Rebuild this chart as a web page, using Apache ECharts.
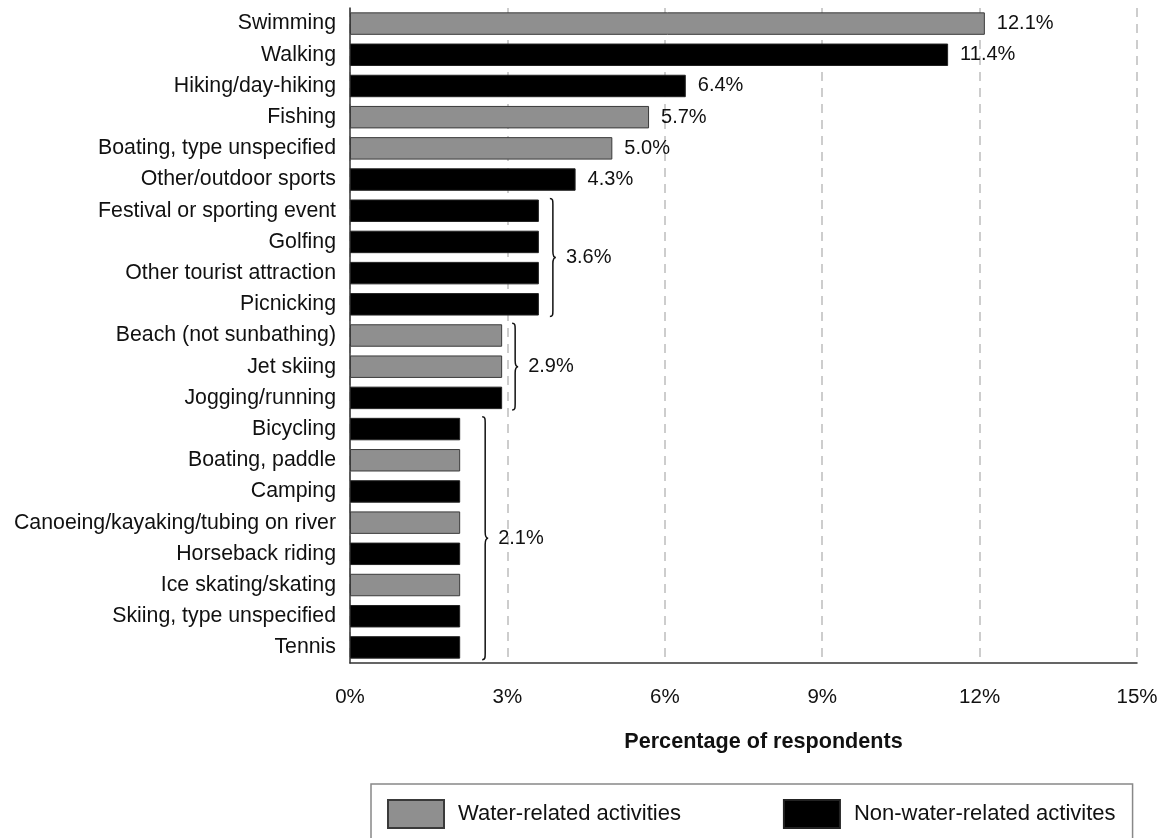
<!DOCTYPE html>
<html>
<head>
<meta charset="utf-8">
<script src="https://cdn.jsdelivr.net/npm/echarts@6/dist/echarts.min.js"></script>
<style>
html,body{margin:0;padding:0;background:#fff;}
#chart{width:1164px;height:838px;}
</style>
</head>
<body>
<div id="chart"></div>
<script>
// ---- data ----
const categories = [
  'Swimming', 'Walking', 'Hiking/day-hiking', 'Fishing', 'Boating, type unspecified',
  'Other/outdoor sports', 'Festival or sporting event', 'Golfing', 'Other tourist attraction',
  'Picnicking', 'Beach (not sunbathing)', 'Jet skiing', 'Jogging/running', 'Bicycling',
  'Boating, paddle', 'Camping', 'Canoeing/kayaking/tubing on river', 'Horseback riding',
  'Ice skating/skating', 'Skiing, type unspecified', 'Tennis'
];
const values = [12.1, 11.4, 6.4, 5.7, 5.0, 4.3, 3.6, 3.6, 3.6, 3.6, 2.9, 2.9, 2.9,
  2.1, 2.1, 2.1, 2.1, 2.1, 2.1, 2.1, 2.1];
const waterRelated = [true, false, false, true, true, false, false, false, false, false,
  true, true, false, false, true, false, true, false, true, false, false];
const groupValues = [3.6, 2.9, 2.1];
const groupFirst = [6, 10, 13];
const groupLast = [9, 12, 20];
const seriesNames = ['Water-related activities', 'Non-water-related activites'];
const xMin = 0, xMax = 15, xStep = 3;

// ---- styles ----
const FONT = 'Liberation Sans, Arial, Helvetica, sans-serif';
const braceOffsets = [11, 10, 22];

// build series data
const inGroup = values.map((v, i) => groupFirst.some((f, g) => i >= f && i <= groupLast[g]));
const waterData = values.map((v, i) => waterRelated[i] ? v : '-');
const otherData = values.map((v, i) => waterRelated[i] ? '-' : v);
const braceData = groupValues.map((v, g) => [v, groupFirst[g], groupLast[g], g]);

const barLabel = {
  show: true,
  position: 'right',
  distance: 12,
  fontFamily: FONT,
  fontSize: 20,
  color: '#111',
  formatter: p => inGroup[p.dataIndex] ? '' : Number(p.value).toFixed(1) + '%'
};

const chart = echarts.init(document.getElementById('chart'), null, {renderer: 'canvas'});
chart.setOption({
  backgroundColor: '#fff',
  animation: false,
  grid: {left: 350, right: 27, top: 8, bottom: 175, containLabel: false},
  xAxis: {
    type: 'value', min: xMin, max: xMax, interval: xStep,
    axisLine: {show: true, lineStyle: {color: '#333', width: 1.5}},
    axisTick: {show: false},
    axisLabel: {formatter: '{value}%', fontFamily: FONT, fontSize: 20.5, color: '#111', margin: 24},
    splitLine: {show: true, lineStyle: {color: '#bdbdbd', width: 1.5, type: [9, 7]}},
    name: 'Percentage of respondents',
    nameLocation: 'middle',
    nameGap: 68,
    nameTextStyle: {fontFamily: FONT, fontSize: 21.6, fontWeight: 'bold', color: '#111', padding: [0, 0, 0, 40]}
  },
  yAxis: {
    type: 'category', data: categories, inverse: true,
    axisLine: {show: true, onZero: false, lineStyle: {color: '#333', width: 1.5}},
    axisTick: {show: false},
    axisLabel: {fontFamily: FONT, fontSize: 21.3, color: '#111', margin: 14},
    splitLine: {show: false}
  },
  legend: {
    left: 371, top: 784,
    data: seriesNames,
    icon: 'rect',
    itemWidth: 56, itemHeight: 28, itemGap: 102,
    padding: [15, 17, 40, 16],
    borderColor: '#888', borderWidth: 1.5,
    textStyle: {fontFamily: FONT, fontSize: 22, color: '#111', padding: [0, 0, 0, 9]}
  },
  series: [
    {
      name: seriesNames[0], type: 'bar', stack: 'all', data: waterData,
      barCategoryGap: '28%',
      itemStyle: {color: '#8f8f8f', borderColor: '#3a3a3a', borderWidth: 1},
      label: barLabel
    },
    {
      name: seriesNames[1], type: 'bar', stack: 'all', data: otherData,
      barCategoryGap: '28%',
      itemStyle: {color: '#000', borderColor: '#222', borderWidth: 1},
      label: barLabel
    },
    {
      type: 'custom', coordinateSystem: 'cartesian2d', data: braceData,
      silent: true, clip: false,
      encode: {x: 0, y: 1},
      renderItem: function (params, api) {
        const v = api.value(0);
        const f = api.value(1);
        const l = api.value(2);
        const g = api.value(3);
        const band = api.size([0, 1])[1];
        const half = band * 0.72 / 2 + 1;
        const pTop = api.coord([v, f]);
        const pBot = api.coord([v, l]);
        const x0 = pTop[0] + braceOffsets[g];
        const y0 = pTop[1] - half;
        const y1 = pBot[1] + half;
        const ym = (y0 + y1) / 2;
        const w = 3;
        const d = [
          'M', x0, y0,
          'C', x0 + w, y0, x0 + w, y0 + 2, x0 + w, y0 + 6,
          'L', x0 + w, ym - 6,
          'C', x0 + w, ym - 2, x0 + w + 1, ym, x0 + 2 * w, ym,
          'C', x0 + w + 1, ym, x0 + w, ym + 2, x0 + w, ym + 6,
          'L', x0 + w, y1 - 6,
          'C', x0 + w, y1 - 2, x0 + w, y1, x0, y1
        ].join(' ');
        return {
          type: 'group',
          children: [
            {type: 'path', shape: {pathData: d}, style: {fill: null, stroke: '#111', lineWidth: 1.5}},
            {type: 'text', style: {
              text: v.toFixed(1) + '%', x: x0 + 2 * w + 10, y: ym,
              verticalAlign: 'middle', align: 'left',
              font: '20px ' + FONT, fill: '#111'
            }}
          ]
        };
      }
    }
  ]
});
</script>
</body>
</html>
